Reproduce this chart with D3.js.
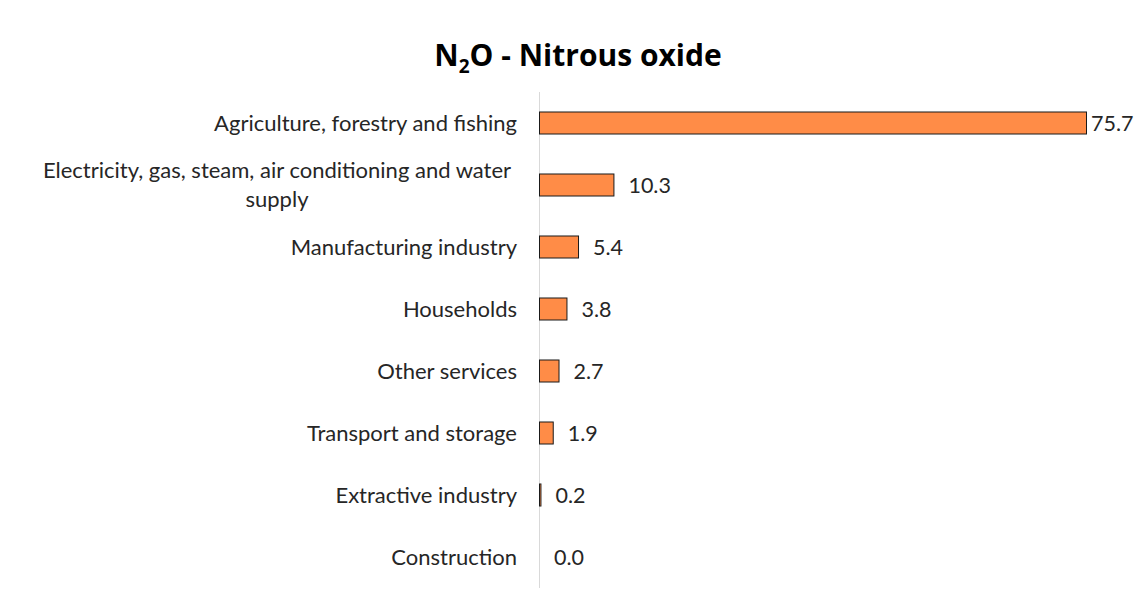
<!DOCTYPE html>
<html><head><meta charset="utf-8">
<script src="https://cdn.jsdelivr.net/npm/d3@7"></script>
<style>body{margin:0;background:#fff}</style>
</head><body>
<svg id="c" width="1144" height="599"></svg>
<script>
const categories = [
  ["Agriculture, forestry and fishing"],
  ["Electricity, gas, steam, air conditioning and water", "supply"],
  ["Manufacturing industry"],
  ["Households"],
  ["Other services"],
  ["Transport and storage"],
  ["Extractive industry"],
  ["Construction"]
];
const values = [75.7, 10.3, 5.4, 3.8, 2.7, 1.9, 0.2, 0.0];
const valueLabels = ["75.7", "10.3", "5.4", "3.8", "2.7", "1.9", "0.2", "0.0"];

const svg = d3.select("#c");
const font = "Lato, 'Open Sans', sans-serif";
const x0 = 539, x1 = 1086, yTop = 92, yBot = 588;
const x = d3.scaleLinear().domain([0, 75.7]).range([x0, x1]);
const idx = d3.range(categories.length);
const y = d3.scaleBand().domain(idx).range([yTop, yBot]).paddingInner(0.645).paddingOuter(0.3225);

// title
const t = svg.append("text").attr("x", 578).attr("y", 66).attr("text-anchor", "middle")
  .attr("font-family", "'Open Sans', sans-serif").attr("font-weight", "bold").attr("font-size", 30).attr("fill", "#000");
t.append("tspan").text("N");
t.append("tspan").text("2").attr("font-size", 19).attr("dy", 7);
t.append("tspan").text("O - Nitrous oxide").attr("dy", -7);

// axis line
svg.append("line").attr("x1", x0 + 0.5).attr("x2", x0 + 0.5).attr("y1", yTop).attr("y2", yBot)
  .attr("stroke", "#d9d9d9").attr("stroke-width", 1);

// bars
svg.selectAll("rect.bar").data(idx).join("rect").attr("class", "bar")
  .attr("x", x(0) + 0.5).attr("y", d => y(d))
  .attr("width", d => Math.max(0, x(values[d]) - x(0)))
  .attr("height", y.bandwidth())
  .attr("fill", "#FF8C47")
  .attr("stroke", d => values[d] > 0 ? "#1a1a1a" : "none").attr("stroke-width", 1);

// value labels
svg.selectAll("text.val").data(idx).join("text").attr("class", "val")
  .attr("x", d => x(values[d]) + (d === 0 ? 5 : 15))
  .attr("y", d => y(d) + y.bandwidth() / 2 + 8)
  .attr("font-family", font).attr("font-size", 21.5).attr("fill", "#262626")
  .text(d => valueLabels[d]);

// category labels
idx.forEach(d => {
  const lines = categories[d];
  const cy = y(d) + y.bandwidth() / 2;
  if (lines.length === 1) {
    svg.append("text").attr("x", 517).attr("y", cy + 8).attr("text-anchor", "end")
      .attr("font-family", font).attr("font-size", 22).attr("fill", "#262626").text(lines[0]);
  } else {
    lines.forEach((l, i) => {
      svg.append("text").attr("x", 277).attr("y", cy - 7 + i * 29).attr("text-anchor", "middle")
        .attr("font-family", font).attr("font-size", 22).attr("fill", "#262626").text(l);
    });
  }
});
</script>
</body></html>
